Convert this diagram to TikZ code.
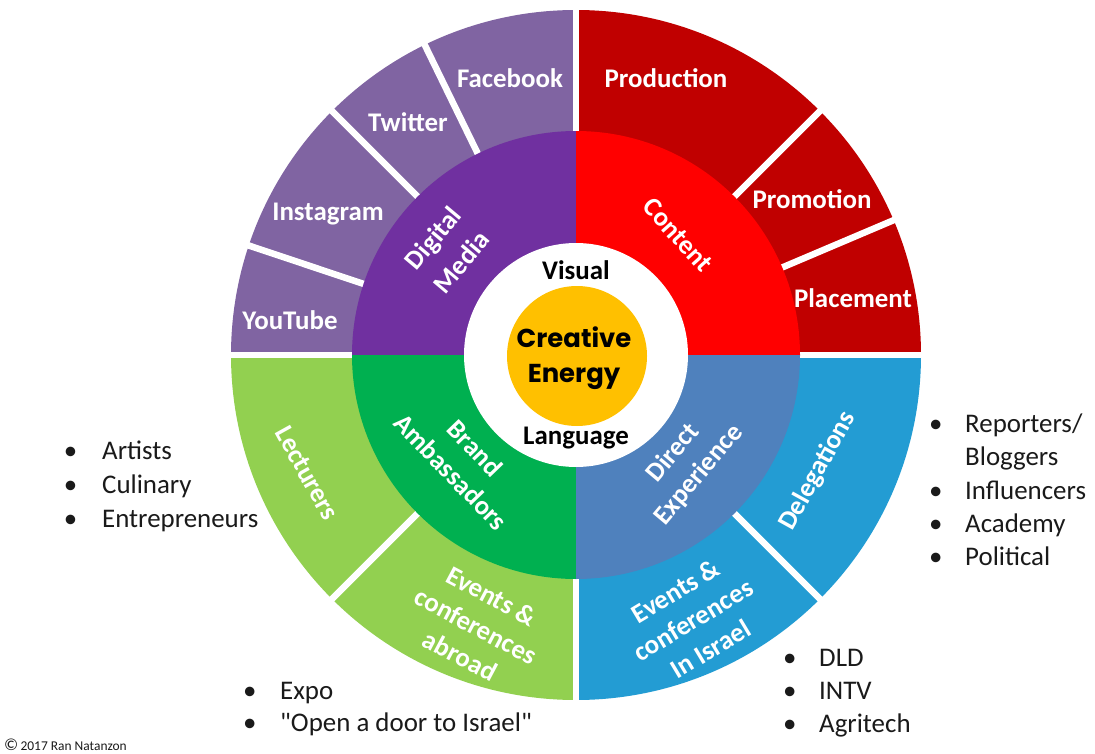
\documentclass[tikz,border=0pt]{standalone}
\usepackage{fontspec}
\setmainfont{Carlito}
\newfontfamily\geofont{Poppins}
\definecolor{opurple}{HTML}{8064A2}
\definecolor{ipurple}{HTML}{7030A0}
\definecolor{ored}{HTML}{C00000}
\definecolor{ired}{HTML}{FF0000}
\definecolor{ogreen}{HTML}{92D050}
\definecolor{igreen}{HTML}{00B050}
\definecolor{oblue}{HTML}{239CD3}
\definecolor{iblue}{HTML}{4F81BD}
\definecolor{core}{HTML}{FFC000}
\definecolor{ink}{HTML}{1A1A1A}
\tikzset{
  lbl/.style={text=white, font=\bfseries\fontsize{27}{34}\selectfont, align=center, inner sep=0pt},
  mid/.style={text=black, font=\bfseries\fontsize{27}{34}\selectfont, inner sep=0pt},
  bul/.style={text=ink, font=\fontsize{27}{34}\selectfont, anchor=base west, inner sep=0pt},
  sep/.style={white, line width=6.5bp},
}
\newcommand{\bl}{\makebox[0pt][c]{\textbullet}}
\newcommand{\sq}{\XeTeXglyph\XeTeXcharglyph"22\relax}
\begin{document}
\begin{tikzpicture}[x=1bp,y=-1bp]
\useasboundingbox (0,0) rectangle (1095,754);
\fill[white] (0,0) rectangle (1095,754);
\begin{scope}[shift={(576,355)}, y=1bp]
  % outer ring quadrants
  \fill[opurple] (0,0) -- (90:345) arc[start angle=90, end angle=180, radius=345] -- cycle;
  \fill[ored] (0,0) -- (0:345) arc[start angle=0, end angle=90, radius=345] -- cycle;
  \fill[ogreen] (0,0) -- (180:345) arc[start angle=180, end angle=270, radius=345] -- cycle;
  \fill[oblue] (0,0) -- (270:345) arc[start angle=270, end angle=360, radius=345] -- cycle;
  % separators
  \foreach \a in {0,23,45,90,116,135,161.5,180,225,270,315}
    \draw[sep] (0,0) -- (\a:352);
  % inner ring
  \fill[ipurple] (0,0) -- (90:224) arc[start angle=90, end angle=180, radius=224] -- cycle;
  \fill[ired] (0,0) -- (0:224) arc[start angle=0, end angle=90, radius=224] -- cycle;
  \fill[igreen] (0,0) -- (180:224) arc[start angle=180, end angle=270, radius=224] -- cycle;
  \fill[iblue] (0,0) -- (270:224) arc[start angle=270, end angle=360, radius=224] -- cycle;
  % centre
  \fill[white] (0,0) circle[radius=112];
  \fill[core] (1,-1) circle[radius=70];
  \node[font=\geofont\bfseries\fontsize{26}{35}\selectfont, align=center, inner sep=0pt] (ce) at (-2,-3) {Creative\\Energy};
  \node[mid] (vis) at (0,85) {Visual};
  \node[mid] (lang) at (0,-83) {Language};
  % inner labels
  \node[lbl, rotate=50, font=\bfseries\fontsize{27}{37}\selectfont] (dm) at (-129,105) {Digital\\Media};
  \node[lbl, rotate=-48] (ct) at (102,120) {Content};
  \node[lbl, rotate=-46] (ba) at (-113,-105) {Brand\\Ambassadors};
  \node[lbl, rotate=50] (de) at (110,-109) {Direct\\Experience};
  % outer labels
  \node[lbl] (fb) at (-66,277) {Facebook};
  \node[lbl] (tw) at (-168,233) {Twitter};
  \node[lbl] (ig) at (-248,141) {Instagram};
  \node[lbl] (yt) at (-286,35) {YouTube};
  \node[lbl] (pr) at (90,277) {Production};
  \node[lbl] (pm) at (236,156) {Promotion};
  \node[lbl] (pl) at (277,57) {Placement};
  \node[lbl, rotate=-61] (lc) at (-269,-118) {Lecturers};
  \node[lbl, rotate=-28] (ea) at (-100,-271) {Events \&\\conferences\\abroad};
  \node[lbl, rotate=61] (dg) at (242,-116) {Delegations};
  \node[lbl, rotate=31] (ei) at (117,-265) {Events \&\\conferences\\In Israel};
\end{scope}
% bullet lists
\node[bul] (b1) at (70,459) {\bl};  \node[bul] (t1) at (102,459) {Artists};
\node[bul] (b2) at (70,493) {\bl};  \node[bul] (t2) at (102,493) {Culinary};
\node[bul] (b3) at (70,527) {\bl};  \node[bul] (t3) at (102,527) {Entrepreneurs};
\node[bul] (r1) at (935,432) {\bl}; \node[bul] (s1) at (965,432) {Reporters/};
                                     \node[bul] (s1b) at (965,465) {Bloggers};
\node[bul] (r2) at (935,499) {\bl}; \node[bul] (s2) at (965,499) {Influencers};
\node[bul] (r3) at (935,532) {\bl}; \node[bul] (s3) at (965,532) {Academy};
\node[bul] (r4) at (935,565) {\bl}; \node[bul] (s4) at (965,565) {Political};
\node[bul] (d1) at (789,666) {\bl}; \node[bul] (e1) at (819,666) {DLD};
\node[bul] (d2) at (789,699) {\bl}; \node[bul] (e2) at (819,699) {INTV};
\node[bul] (d3) at (789,732) {\bl}; \node[bul] (e3) at (819,732) {Agritech};
\node[bul] (x1) at (249,699) {\bl}; \node[bul] (y1) at (280,699) {Expo};
\node[bul] (x2) at (249,731) {\bl}; \node[bul] (y2) at (280,731) {\sq Open a door to Israel\sq};
\node[anchor=base west, inner sep=0pt, text=ink, font=\fontsize{13.5}{15}\selectfont] (cp) at (4,750) {{\fontsize{17}{17}\selectfont\textcopyright}\,2017 Ran Natanzon};
\end{tikzpicture}
\end{document}
